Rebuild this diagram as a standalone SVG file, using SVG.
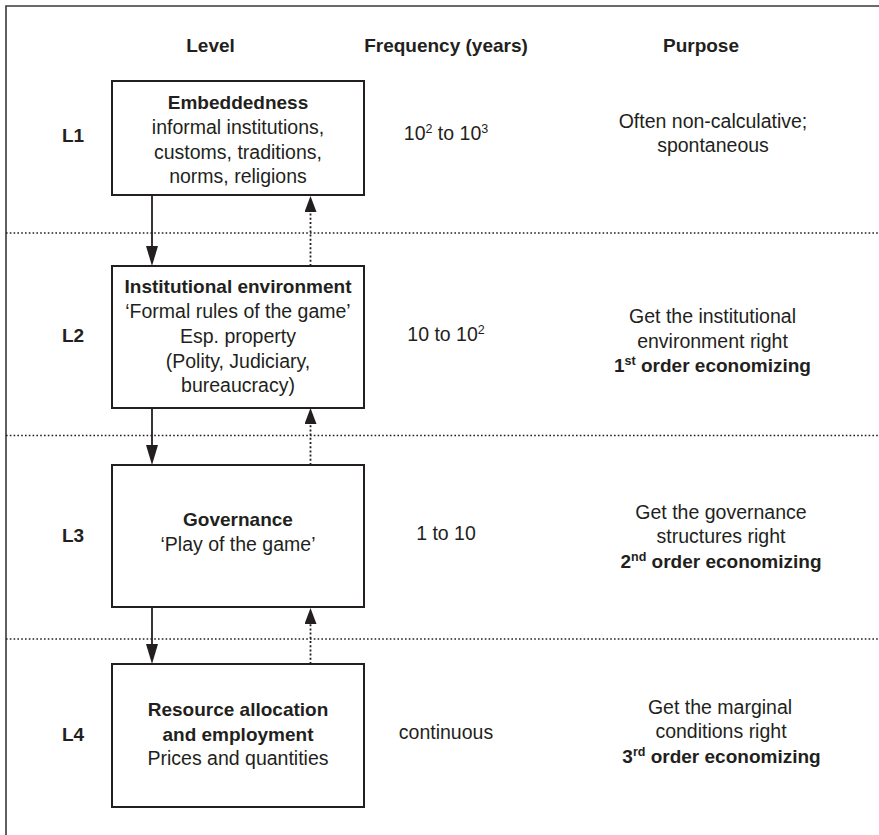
<svg xmlns="http://www.w3.org/2000/svg" width="879" height="835" viewBox="0 0 879 835">
  <style>
    text { font-family: "Liberation Sans", Arial, sans-serif; fill: #231f20; text-anchor: middle; }
    .r { font-size: 19.5px; }
    .b { font-size: 19px; font-weight: bold; }
    .sup { font-size: 12.5px; }
    .box { fill: #ffffff; stroke: #231f20; stroke-width: 2; }
    .sep { stroke: #231f20; stroke-width: 1.6; stroke-dasharray: 1.6 2.2; fill: none; }
    .down { stroke: #231f20; stroke-width: 1.8; fill: none; marker-end: url(#headDown); }
    .up { stroke: #231f20; stroke-width: 1.8; stroke-dasharray: 2 2.2; fill: none; marker-end: url(#headUp); }
    .frame { stroke: #3a3a3a; stroke-width: 1.6; fill: none; }
  </style>
  <defs>
    <marker id="headDown" markerUnits="userSpaceOnUse" viewBox="0 0 20 12" markerWidth="20" markerHeight="12" refX="12" refY="6" orient="auto">
      <path d="M0,0 L20,6 L0,12 z" fill="#231f20"/>
    </marker>
    <marker id="headUp" markerUnits="userSpaceOnUse" viewBox="0 0 16 12" markerWidth="16" markerHeight="12" refX="8" refY="6" orient="auto">
      <path d="M0,0 L16,6 L0,12 z" fill="#231f20"/>
    </marker>
  </defs>

  <rect width="879" height="835" fill="#ffffff"/>
  <path class="frame" d="M6,835 V6 H879"/>

  <!-- row separators -->
  <g id="separators">
    <line class="sep" x1="6" y1="233" x2="879" y2="233"/>
    <line class="sep" x1="6" y1="435.5" x2="879" y2="435.5"/>
    <line class="sep" x1="6" y1="639" x2="879" y2="639"/>
  </g>

  <!-- column headers -->
  <g id="headers">
    <text class="b" x="210.5" y="52">Level</text>
    <text class="b" x="446" y="52">Frequency (years)</text>
    <text class="b" x="701" y="52">Purpose</text>
  </g>

  <!-- level labels -->
  <g id="levels">
    <text class="b" x="73" y="142">L1</text>
    <text class="b" x="73" y="342">L2</text>
    <text class="b" x="73" y="542">L3</text>
    <text class="b" x="73" y="741">L4</text>
  </g>

  <g id="node-l1">
    <rect class="box" x="112" y="81" width="252" height="114"/>
    <text class="b" x="238" y="109">Embeddedness</text>
    <text class="r" x="238" y="134">informal institutions,</text>
    <text class="r" x="238" y="158.5">customs, traditions,</text>
    <text class="r" x="238" y="183">norms, religions</text>
  </g>

  <g id="node-l2">
    <rect class="box" x="112" y="266" width="252" height="142"/>
    <text class="b" x="238" y="293">Institutional environment</text>
    <text class="r" x="238" y="318">‘Formal rules of the game’</text>
    <text class="r" x="238" y="342.5">Esp. property</text>
    <text class="r" x="238" y="367.5">(Polity, Judiciary,</text>
    <text class="r" x="238" y="392">bureaucracy)</text>
  </g>

  <g id="node-l3">
    <rect class="box" x="112" y="465" width="252" height="142"/>
    <text class="b" x="238" y="526">Governance</text>
    <text class="r" x="238" y="551">‘Play of the game’</text>
  </g>

  <g id="node-l4">
    <rect class="box" x="112" y="664" width="252" height="143"/>
    <text class="b" x="238" y="716">Resource allocation</text>
    <text class="b" x="238" y="740.5">and employment</text>
    <text class="r" x="238" y="765">Prices and quantities</text>
  </g>

  <!-- frequency column -->
  <g id="frequency">
    <text class="r" x="446" y="140">10<tspan class="sup" dy="-7.5">2</tspan><tspan dy="7.5"> to 10</tspan><tspan class="sup" dy="-7.5">3</tspan></text>
    <text class="r" x="446" y="341">10 to 10<tspan class="sup" dy="-7.5">2</tspan></text>
    <text class="r" x="446" y="540">1 to 10</text>
    <text class="r" x="446" y="739">continuous</text>
  </g>

  <!-- purpose column -->
  <g id="purpose">
    <text class="r" x="713" y="128">Often non-calculative;</text>
    <text class="r" x="713" y="152">spontaneous</text>
    <text class="r" x="712.5" y="323">Get the institutional</text>
    <text class="r" x="712.5" y="348">environment right</text>
    <text class="b" x="712.5" y="372">1<tspan class="sup" dy="-7.5">st</tspan><tspan dy="7.5"> order economizing</tspan></text>
    <text class="r" x="721" y="519">Get the governance</text>
    <text class="r" x="721" y="543">structures right</text>
    <text class="b" x="721" y="568">2<tspan class="sup" dy="-7.5">nd</tspan><tspan dy="7.5"> order economizing</tspan></text>
    <text class="r" x="720" y="714">Get the marginal</text>
    <text class="r" x="721" y="738">conditions right</text>
    <text class="b" x="721.5" y="763">3<tspan class="sup" dy="-7.5">rd</tspan><tspan dy="7.5"> order economizing</tspan></text>
  </g>

  <!-- connectors: solid downward, dotted upward -->
  <g id="connectors">
    <path class="down" d="M152,195 V258"/>
    <path class="down" d="M152,408 V457"/>
    <path class="down" d="M152,607 V656"/>
    <path class="up" d="M310.5,266 V204"/>
    <path class="up" d="M310.5,465 V416"/>
    <path class="up" d="M310.5,664 V616"/>
  </g>
</svg>
